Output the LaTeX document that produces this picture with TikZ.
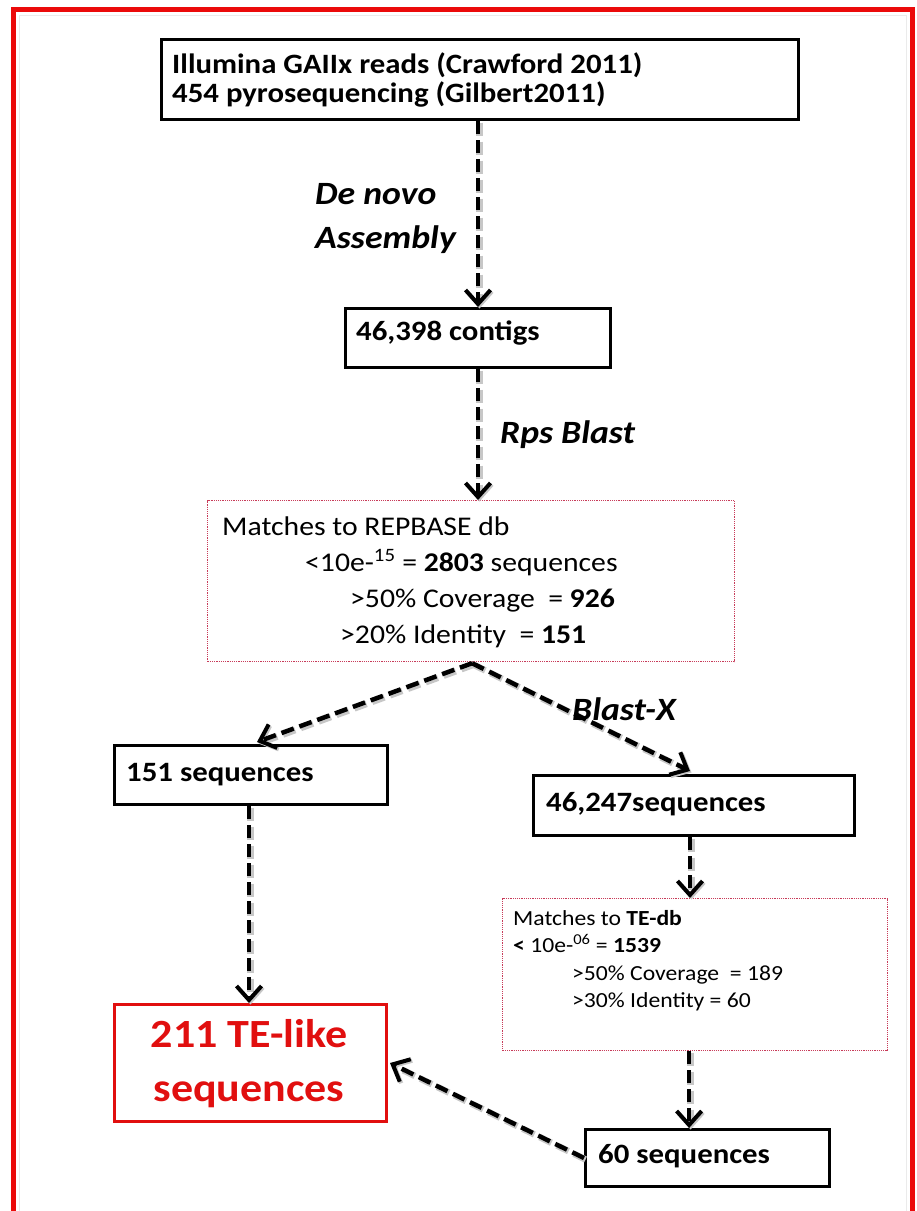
\documentclass[tikz,border=0pt]{standalone}
\usepackage{fontspec}
\setmainfont{Carlito}[FakeStretch=1.1]
\usetikzlibrary{arrows.meta,calc}
\definecolor{frame}{RGB}{235,10,10}
\definecolor{dotc}{RGB}{200,60,90}
\definecolor{tered}{RGB}{225,15,15}
\begin{document}
\begin{tikzpicture}[x=1pt,y=-1pt,
  bbox/.style={draw=black,line width=3pt,inner sep=0pt,anchor=north west},
  dbox/.style={draw=dotc,densely dotted,line width=1.2pt,anchor=north west,inner sep=0pt},
  btxt/.style={anchor=base west,inner sep=0pt,font=\bfseries\fontsize{28}{32}\selectfont},
  rtxt/.style={anchor=base west,inner sep=0pt,font=\fontsize{27}{32}\selectfont},
  stxt/.style={anchor=base west,inner sep=0pt,font=\fontsize{21.5}{25}\selectfont},
  ttxt/.style={anchor=base,inner sep=0pt,text=tered,font=\bfseries\fontsize{40}{48}\selectfont},
  flow/.style={draw=black,line width=4.5pt,dash pattern=on 13pt off 6pt,
     -{Straight Barb[length=14pt,width=25pt,line width=4pt]},
     preaction={draw=black!22,line width=6.5pt,dash pattern=on 13pt off 6pt,transform canvas={shift={(1.5pt,-1.5pt)}}}},
  lab/.style={font=\bfseries\itshape\fontsize{32.5}{36}\selectfont,anchor=base west,inner sep=0pt}]
\useasboundingbox (0,0) rectangle (917,1211);
\fill[white] (0,0) rectangle (917,1211);
\draw[frame,line width=5pt] (13.5,9.5) rectangle (912.5,1240);
\draw[black!8,line width=1pt] (19,15) rectangle (906,1240);

% boxes
\node[bbox,minimum width=637pt,minimum height=80pt] (top) at (160,38) {};
\node[btxt] (tl1) at (172,73) {Illumina GAIIx reads (Crawford 2011)};
\node[btxt] (tl2) at (172,102) {454 pyrosequencing (Gilbert2011)};

\node[bbox,minimum width=265pt,minimum height=59pt] (contigs) at (344,307) {};
\node[btxt] (ctxt) at (356,340) {46,398 contigs};

\node[dbox,minimum width=527pt,minimum height=161pt] (rep) at (207,500) {};
\node[rtxt] (r1) at (222,535) {Matches to REPBASE db};
\node[rtxt] (r2) at (305,571) {<10e-\textsuperscript{15} = \textbf{2803} sequences};
\node[rtxt] (r3) at (350,607) {>50\% Coverage \ = \textbf{926}};
\node[rtxt] (r4) at (340,643) {>20\% Identity \ = \textbf{151}};

\node[bbox,minimum width=273pt,minimum height=59pt] (s151) at (113,744) {};
\node[btxt] (s151t) at (126,781) {151 sequences};

\node[bbox,minimum width=321pt,minimum height=60pt] (s46) at (532,774) {};
\node[btxt] (s46t) at (546,811) {46,247sequences};

\node[dbox,minimum width=385pt,minimum height=152pt] (ted) at (502,898) {};
\node[stxt] (t1) at (513,925) {Matches to \textbf{TE-db}};
\node[stxt] (t2) at (513,952) {\textbf{<} 10e-\textsuperscript{06} = \textbf{1539}};
\node[stxt] (t3) at (572,980) {>50\% Coverage \ = 189};
\node[stxt] (t4) at (572,1007) {>30\% Identity = 60};

\node[bbox,minimum width=244pt,minimum height=57pt] (s60) at (584,1128) {};
\node[btxt] (s60t) at (598,1163) {60 sequences};

\node[bbox,draw=tered,minimum width=272pt,minimum height=117pt] (te) at (113,1003) {};
\node[ttxt] (tet1) at (249,1047) {211 TE-like};
\node[ttxt] (tet2) at (249,1101) {sequences};

% connectors
\coordinate (a5) at ($(s46.south)+(-4,0)$);
\coordinate (a6) at ($(ted.south)+(-6,0)$);
\coordinate (a7) at ($(s151.south)+(-2,0)$);
\draw[flow] (top.south -| contigs.north) -- (contigs.north);
\draw[flow] (contigs.south) -- (contigs.south |- rep.north);
\draw[flow] ($(rep.south)+(1,1)$) -- ($(s151.north)+(6,-2)$);
\draw[flow] ($(rep.south)+(1,1)$) -- ($(s46.north)+(-4,-3)$);
\draw[flow] (a5) -- (a5 |- ted.north);
\draw[flow] (a6) -- (a6 |- s60.north);
\draw[flow] (a7) -- (a7 |- te.north);
\draw[flow] (s60.west) -- ($(te.east)+(2,0)$);

% labels
\node[lab] (dn) at (315,204) {De novo};
\node[lab] (as) at (315,248) {Assembly};
\node[lab] (rps) at (500,443) {Rps Blast};
\node[lab] (bx) at (572,720) {Blast-X};
\end{tikzpicture}
\end{document}
